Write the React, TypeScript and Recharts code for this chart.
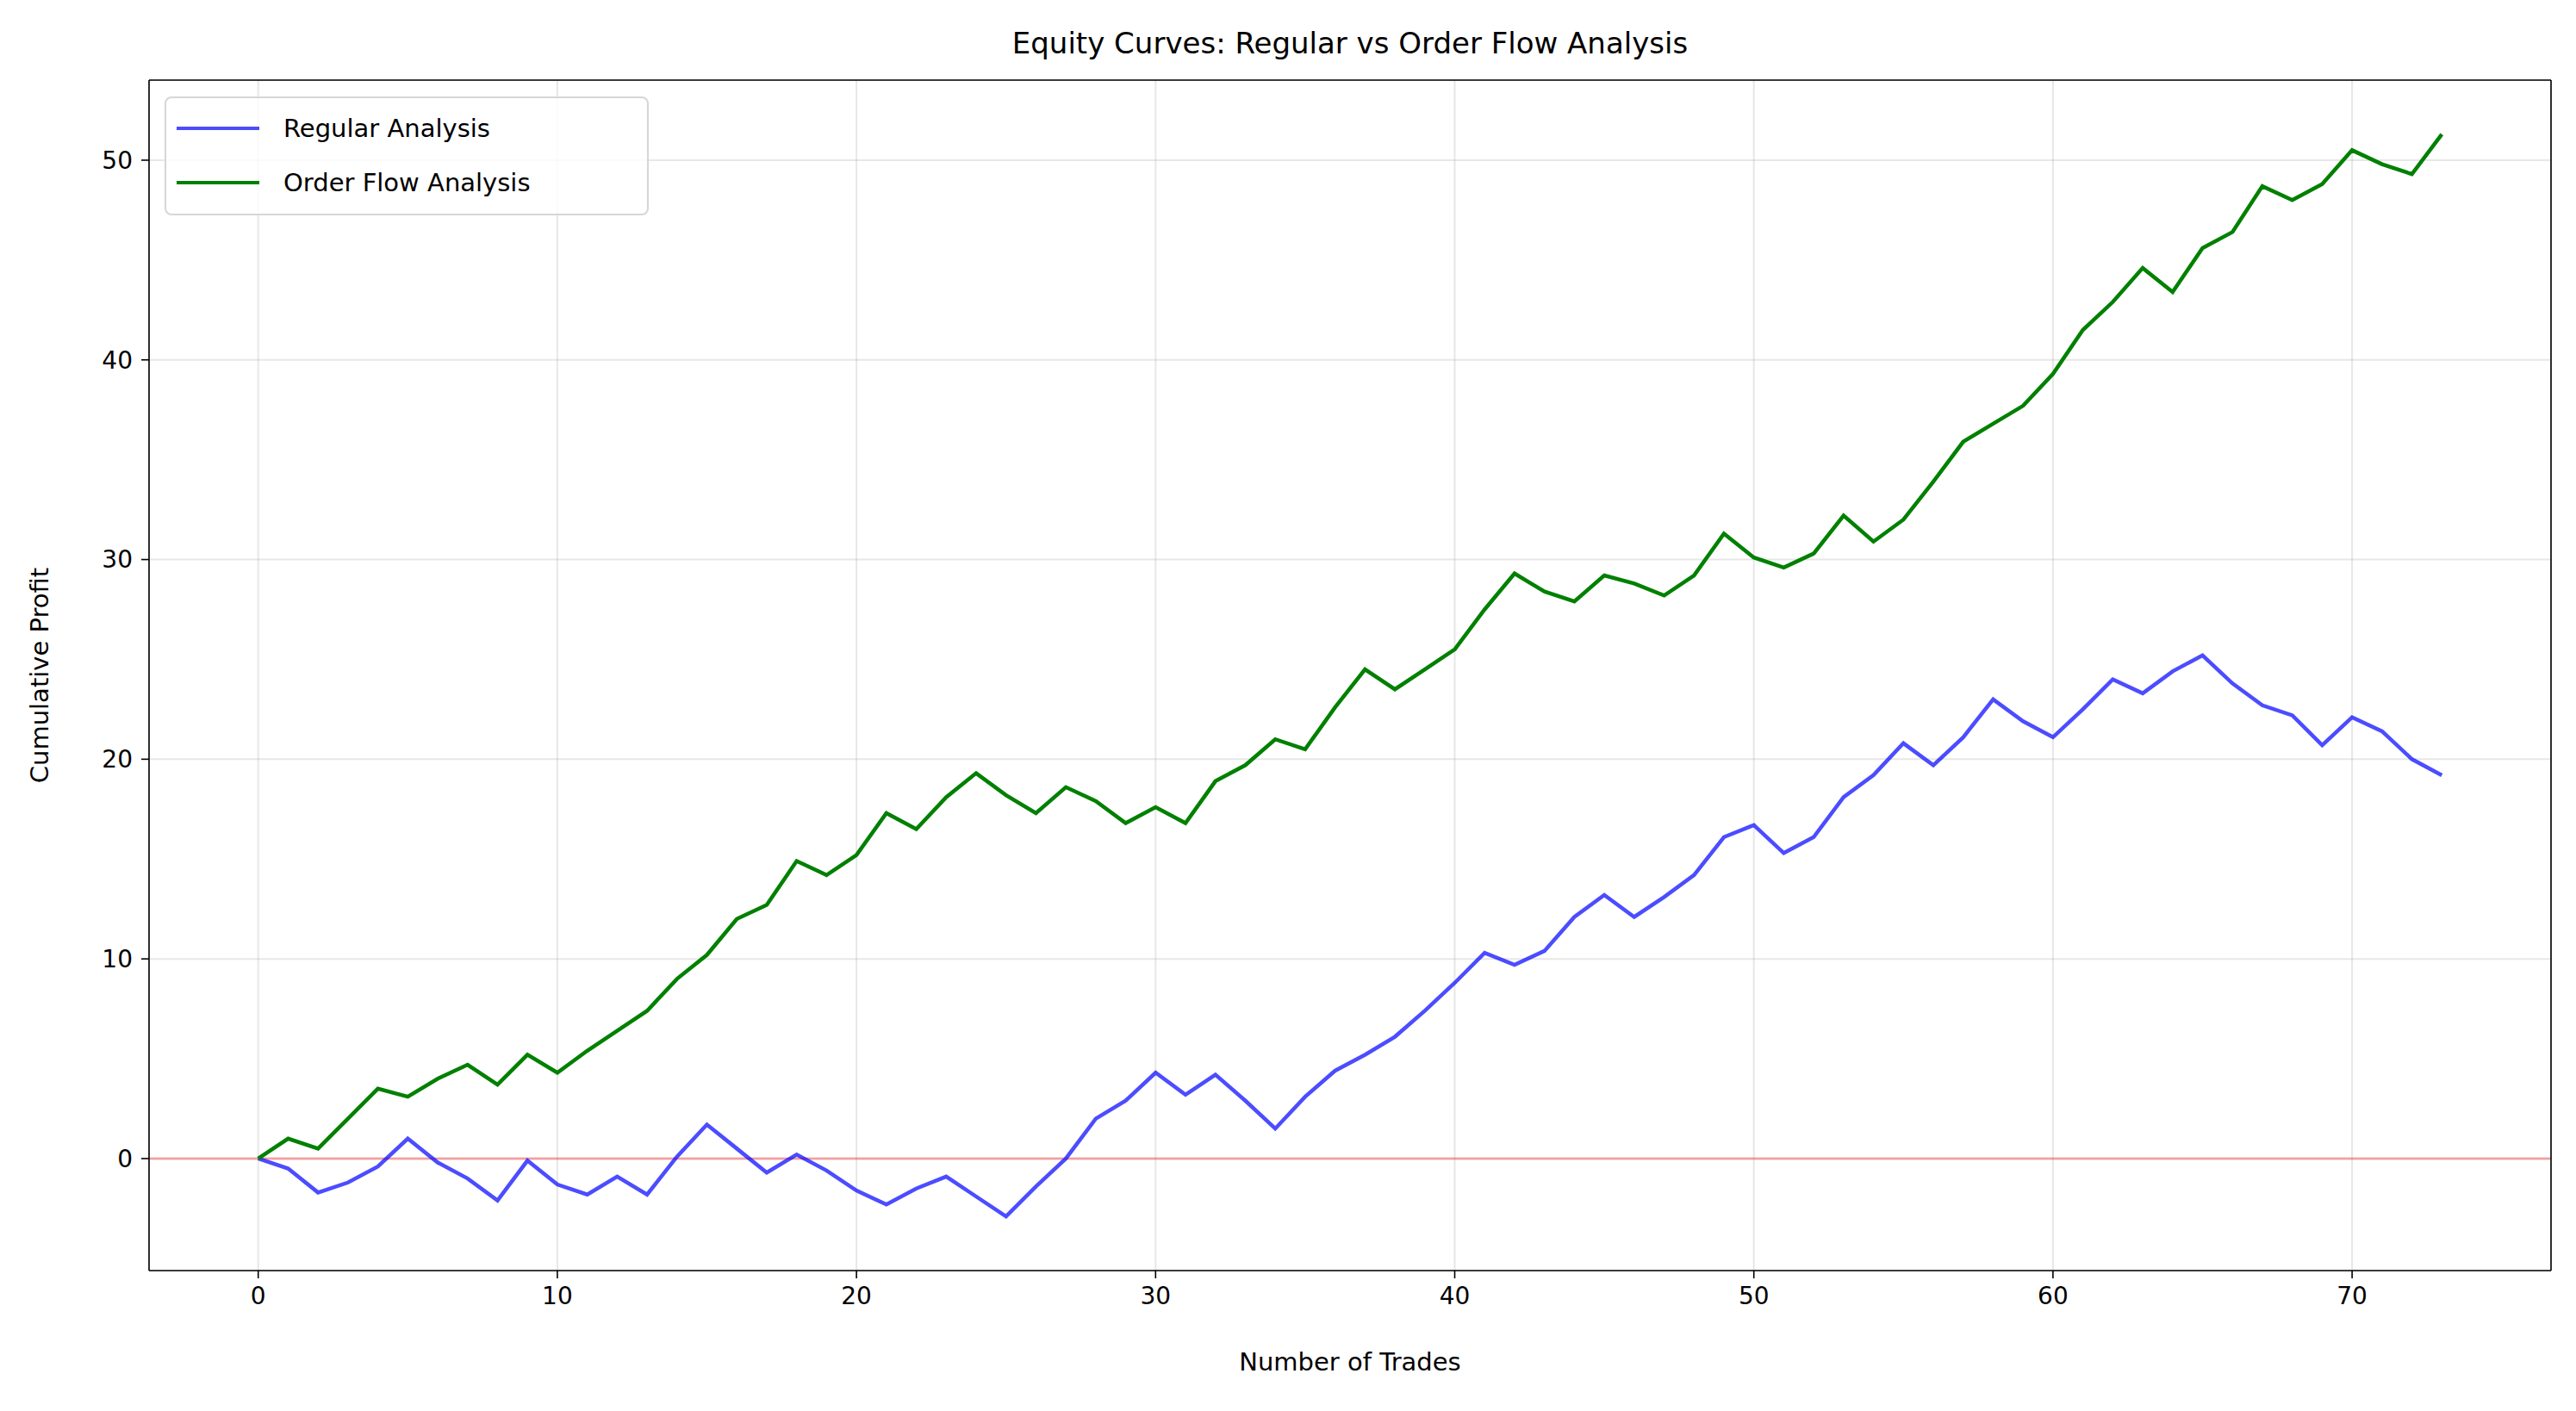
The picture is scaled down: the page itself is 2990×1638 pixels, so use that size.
import React from "react";
import {
  LineChart,
  Line,
  XAxis,
  YAxis,
  CartesianGrid,
  ReferenceLine,
} from "recharts";

// cumulative profit per trade
const regular = [
  0, -0.5, -1.7, -1.2, -0.4, 1.0, -0.2, -1.0, -2.1, -0.1, -1.3, -1.8, -0.9, -1.8, 0.1, 1.7, 0.5, -0.7, 0.2, -0.6,
  -1.6, -2.3, -1.5, -0.9, -1.9, -2.9, -1.4, 0.0, 2.0, 2.9, 4.3, 3.2, 4.2, 2.9, 1.5, 3.1, 4.4, 5.2, 6.1, 7.4,
  8.8, 10.3, 9.7, 10.4, 12.1, 13.2, 12.1, 13.1, 14.2, 16.1, 16.7, 15.3, 16.1, 18.1, 19.2, 20.8, 19.7, 21.1, 23.0, 21.9,
  21.1, 22.5, 24.0, 23.3, 24.4, 25.2, 23.8, 22.7, 22.2, 20.7, 22.1, 21.4, 20.0, 19.2,
];
const orderFlow = [
  0, 1.0, 0.5, 2.0, 3.5, 3.1, 4.0, 4.7, 3.7, 5.2, 4.3, 5.4, 6.4, 7.4, 9.0, 10.2, 12.0, 12.7, 14.9, 14.2,
  15.2, 17.3, 16.5, 18.1, 19.3, 18.2, 17.3, 18.6, 17.9, 16.8, 17.6, 16.8, 18.9, 19.7, 21.0, 20.5, 22.6, 24.5, 23.5, 24.5,
  25.5, 27.5, 29.3, 28.4, 27.9, 29.2, 28.8, 28.2, 29.2, 31.3, 30.1, 29.6, 30.3, 32.2, 30.9, 32.0, 33.9, 35.9, 36.8, 37.7,
  39.3, 41.5, 42.9, 44.6, 43.4, 45.6, 46.4, 48.7, 48.0, 48.8, 50.5, 49.8, 49.3, 51.3,
];
const xTicks = [0, 10, 20, 30, 40, 50, 60, 70];
const yTicks = [0, 10, 20, 30, 40, 50];

const data = regular.map((r, i) => ({ trade: i, regular: r, orderFlow: orderFlow[i] }));

const W = 2990;
const H = 1638;
const font = "DejaVu Sans, sans-serif";
const tick = { fontSize: 28, fill: "#000", fontFamily: font };

export default function App() {
  return (
    <div style={{ position: "absolute", left: 0, top: 0, width: W, height: H, background: "#fff", fontFamily: font }}>
      <LineChart width={W} height={H} data={data} margin={{ top: 92, right: 28, bottom: 162, left: 172 }}>
        <CartesianGrid xAxisId="b" yAxisId="l" stroke="#b0b0b0" strokeOpacity={0.3} strokeWidth={2} />
        <XAxis
          xAxisId="b"
          dataKey="trade"
          type="number"
          domain={[-3.65, 76.65]}
          ticks={xTicks}
          allowDataOverflow
          tick={tick}
          tickLine={{ stroke: "#000", strokeWidth: 1.6 }}
          tickSize={9}
          tickMargin={10}
          axisLine={{ stroke: "#000", strokeWidth: 1.6 }}
          height={1}
        />
        <XAxis xAxisId="t" orientation="top" type="number" domain={[0, 1]} tick={false} tickLine={false} axisLine={{ stroke: "#000", strokeWidth: 1.6 }} height={1} />
        <YAxis
          yAxisId="l"
          type="number"
          domain={[-5.61, 54.01]}
          ticks={yTicks}
          allowDataOverflow
          tick={tick}
          tickLine={{ stroke: "#000", strokeWidth: 1.6 }}
          tickSize={9}
          tickMargin={10}
          axisLine={{ stroke: "#000", strokeWidth: 1.6 }}
          width={1}
        />
        <YAxis yAxisId="r" orientation="right" domain={[0, 1]} tick={false} tickLine={false} axisLine={{ stroke: "#000", strokeWidth: 1.6 }} width={1} />
        <ReferenceLine xAxisId="b" yAxisId="l" y={0} stroke="red" strokeOpacity={0.3} strokeWidth={3} />
        <Line xAxisId="b" yAxisId="l" dataKey="regular" stroke="blue" strokeOpacity={0.7} strokeWidth={4.5} dot={false} isAnimationActive={false} />
        <Line xAxisId="b" yAxisId="l" dataKey="orderFlow" stroke="green" strokeWidth={4.5} dot={false} isAnimationActive={false} />
      </LineChart>
      <div style={{ position: "absolute", top: 30, left: 0, width: W, paddingLeft: 172, boxSizing: "border-box", paddingRight: 28, textAlign: "center", fontSize: 34 }}>
        Equity Curves: Regular vs Order Flow Analysis
      </div>
      <div style={{ position: "absolute", top: 1564, left: 172, width: W - 200, textAlign: "center", fontSize: 29 }}>
        Number of Trades
      </div>
      <div style={{ position: "absolute", left: 46, top: 784, transform: "translate(-50%, -50%) rotate(-90deg)", fontSize: 29, whiteSpace: "nowrap" }}>
        Cumulative Profit
      </div>
      <div style={{ position: "absolute", left: 191, top: 112, width: 562, height: 138, border: "2px solid #d6d6d6", borderRadius: 8, background: "rgba(255,255,255,0.8)", boxSizing: "border-box" }}>
        {[
          { label: "Regular Analysis", color: "rgba(0,0,255,0.7)" },
          { label: "Order Flow Analysis", color: "green" },
        ].map((e, i) => (
          <div key={e.label} style={{ position: "absolute", left: 12, top: 18 + i * 63, display: "flex", alignItems: "center", fontSize: 29 }}>
            <div style={{ width: 96, height: 4.5, background: e.color, marginRight: 28 }} />
            {e.label}
          </div>
        ))}
      </div>
    </div>
  );
}
